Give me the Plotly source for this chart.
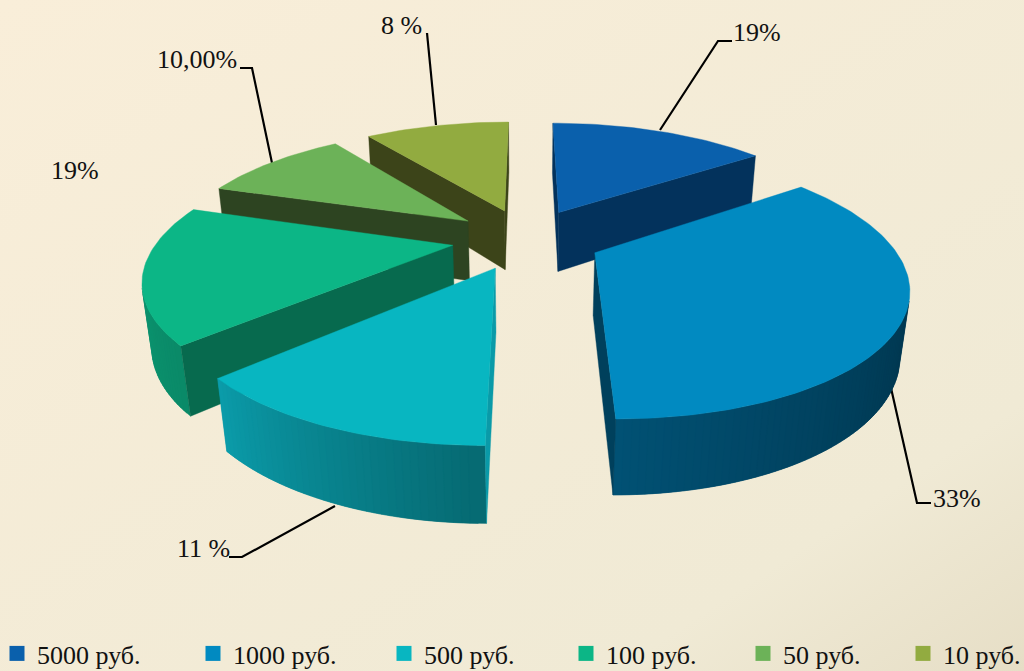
import base64
import math
import plotly.graph_objects as go

categories = ["5000 руб.", "1000 руб.", "500 руб.", "100 руб.", "50 руб.", "10 руб."]
drawn_shares = [15, 35, 13, 17, 10, 10]
label_texts = ["19%", "33%", "11 %", "19%", "10,00%", "8 %"]
top_colors = ["#0a60ac", "#018ac1", "#08b6c1", "#0cb686", "#6cb258", "#92ab40"]
face_colors = ["#03325c", "#00405c", "#0a9aa8", "#076a4e", "#2d4421", "#3c4419"]
rim_dark = ["#02325c", "#003148", "#066a72", "#0a8a68", "#3a5a2a", "#3c4419"]
rim_light = ["#02325c", "#015275", "#0b9dab", "#0fa27a", "#3a5a2a", "#3c4419"]
legend_x = [10, 206, 397, 579, 756, 916]

label_x = [757, 957, 203, 75, 197, 401]
label_y = [32, 498, 548, 170, 59, 25]
leaders = [
    [(660, 130), (718, 41), (732, 41)],
    [(891, 388), (917, 503), (931, 503)],
    [(335, 506), (242, 557), (229, 557)],
    [(272, 163), (252, 68), (240, 68)],
    [(436, 125), (427, 33)],
]

CX, CY, F, D, SIN_T, H, EXPL, R = 526.5, 238.5, 1170.0, 4.0, 0.41, 0.235, 0.255, 1.005
COS_T = math.sqrt(1 - SIN_T ** 2)


def proj(X, Y, Z):
    w = D + Y * COS_T - Z * SIN_T
    return CX + F * X / w, CY - F * (Y * SIN_T + Z * COS_T) / w


def area(poly):
    return sum(poly[i][0] * poly[(i + 1) % len(poly)][1] - poly[(i + 1) % len(poly)][0] * poly[i][1]
               for i in range(len(poly)))


def mix(c1, c2, t):
    a = [int(c1[i:i + 2], 16) for i in (1, 3, 5)]
    b = [int(c2[i:i + 2], 16) for i in (1, 3, 5)]
    return "rgb(%d,%d,%d)" % tuple(round(a[i] + (b[i] - a[i]) * t) for i in range(3))


def poly_trace(poly, color):
    return go.Scatter(x=[p[0] for p in poly] + [poly[0][0]], y=[p[1] for p in poly] + [poly[0][1]],
                      mode="lines", fill="toself", fillcolor=color,
                      line=dict(color=color, width=0.4), hoverinfo="skip", showlegend=False)


total = sum(drawn_shares)
spans = []
a0 = 0.0
for s in drawn_shares:
    a1 = a0 + 360.0 * s / total
    spans.append((a0, a1))
    a0 = a1

slices = []
for i, (a0, a1) in enumerate(spans):
    mid = math.radians((a0 + a1) / 2)
    ox, oy = EXPL * math.sin(mid), EXPL * math.cos(mid)
    slices.append((oy, i, a0, a1, ox))

fig = go.Figure()
for oy, i, a0, a1, ox in sorted(slices, key=lambda t: -t[0]):
    n = max(6, int((a1 - a0) / 1.2))
    angs = [math.radians(a0 + (a1 - a0) * k / n) for k in range(n + 1)]
    rim = [(ox + R * math.sin(a), oy + R * math.cos(a)) for a in angs]
    apex = (ox, oy)
    # strips run backward so each one overlaps its neighbour and hides the seam
    for k in range(n - 1, -1, -1):
        seg = rim[k:min(k + 3, n + 1)]
        top_edge = [proj(p[0], p[1], 0) for p in seg]
        bot_edge = [proj(p[0], p[1], -H) for p in reversed(seg)]
        if area(top_edge[:2] + [proj(seg[1][0], seg[1][1], -H), proj(seg[0][0], seg[0][1], -H)]) < 0:
            t = (k + 0.5) / n
            fig.add_trace(poly_trace(top_edge + bot_edge, mix(rim_dark[i], rim_light[i], t ** 2 if i == 1 else t)))
    for p, q in ((apex, rim[0]), (rim[-1], apex)):
        poly = [proj(p[0], p[1], 0), proj(q[0], q[1], 0), proj(q[0], q[1], -H), proj(p[0], p[1], -H)]
        if area(poly) < 0:
            fig.add_trace(poly_trace(poly, face_colors[i]))
    top = [proj(apex[0], apex[1], 0)] + [proj(p[0], p[1], 0) for p in rim]
    fig.add_trace(poly_trace(top, top_colors[i]))

shapes = []
for pts in leaders:
    path = "M " + " L ".join(f"{x} {y}" for x, y in pts)
    shapes.append(dict(type="path", path=path, xref="x", yref="y", layer="below",
                       line=dict(color="#000000", width=2.2)))

annotations = [dict(x=x, y=y, xref="x", yref="y", text=t, showarrow=False,
                    font=dict(family="Liberation Serif", size=26, color="#111111"))
               for x, y, t in zip(label_x, label_y, label_texts)]

layout_legends = {}
for i, (name, color, lx) in enumerate(zip(categories, top_colors, legend_x)):
    key = "legend" if i == 0 else f"legend{i + 1}"
    fig.add_trace(go.Scatter(x=[None], y=[None], mode="markers", name=name, legend=key,
                             marker=dict(symbol="square", size=15, color=color)))
    layout_legends[key] = dict(x=(lx - 13) / 1024, y=1 - 630 / 671, xanchor="left", yanchor="top",
                               bgcolor="rgba(0,0,0,0)", itemclick=False, itemdoubleclick=False,
                               font=dict(family="Liberation Serif", size=26, color="#111111"))

svg = ("<svg xmlns='http://www.w3.org/2000/svg' width='1024' height='671' preserveAspectRatio='none'>"
       "<defs><linearGradient id='g' x1='0' y1='0' x2='1' y2='1'>"
       "<stop offset='0' stop-color='#f9eed9'/><stop offset='0.8' stop-color='#f0ead5'/>"
       "<stop offset='1' stop-color='#e6dec6'/></linearGradient></defs>"
       "<rect width='1024' height='671' fill='url(#g)'/></svg>")
bg = "data:image/svg+xml;base64," + base64.b64encode(svg.encode()).decode()

fig.update_layout(
    width=1024, height=671, margin=dict(l=0, r=0, t=0, b=0, autoexpand=False),
    paper_bgcolor="#f3ecd6", plot_bgcolor="rgba(0,0,0,0)",
    xaxis=dict(range=[0, 1024], visible=False, fixedrange=True),
    yaxis=dict(range=[671, 0], visible=False, fixedrange=True),
    images=[dict(source=bg, xref="paper", yref="paper", x=0, y=1, sizex=1, sizey=1,
                 sizing="stretch", xanchor="left", yanchor="top", layer="below")],
    shapes=shapes, annotations=annotations, showlegend=True, **layout_legends,
)
fig.write_html("out.html", config=dict(displayModeBar=False),
               post_script="document.body.style.margin='0';document.body.style.overflow='hidden';")
